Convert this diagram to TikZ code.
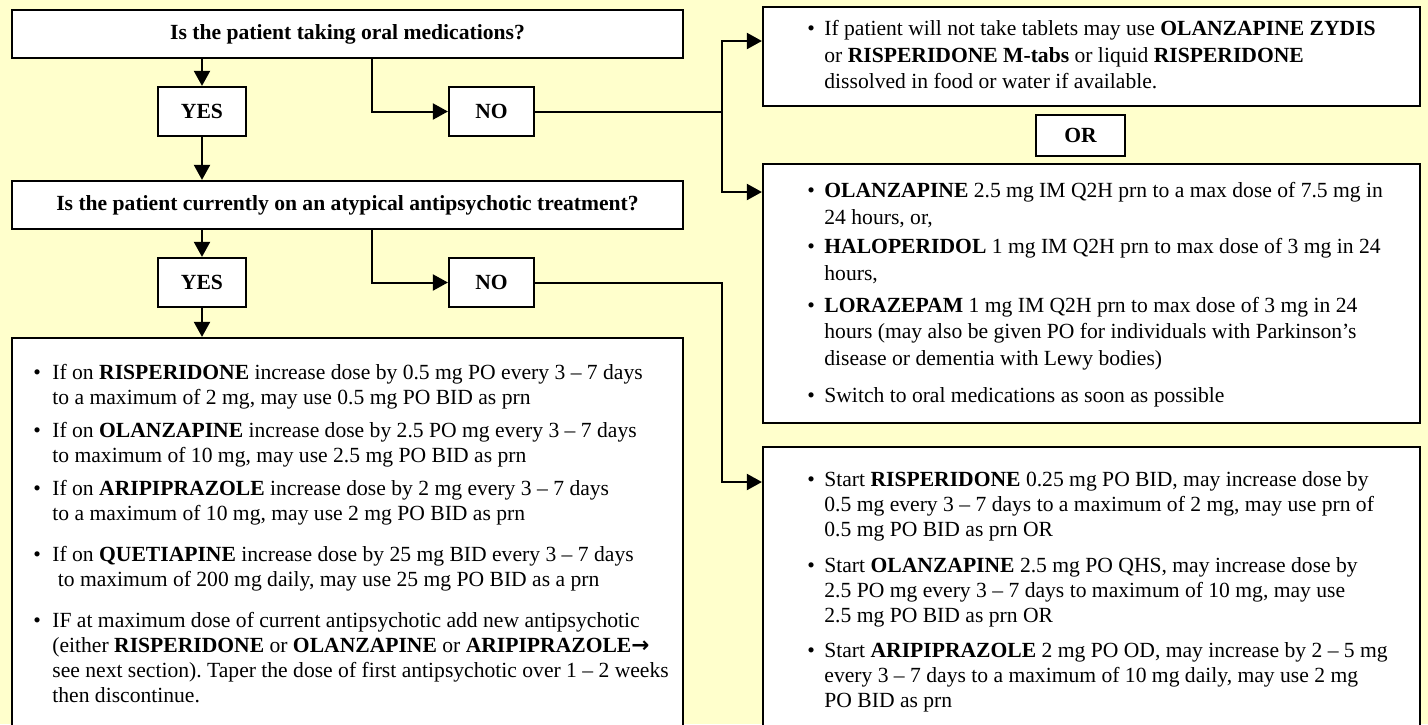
\documentclass[tikz,border=0pt]{standalone}
\usepackage{fontspec}
\setmainfont{Liberation Serif}
\newfontfamily\arrowfont{DejaVu Sans}
\usetikzlibrary{arrows.meta, positioning}
\definecolor{notepad}{HTML}{FFFFCC}

\newlength{\bulletind}
\newcommand{\chartfont}{\fontsize{10.8pt}{12.5pt}\selectfont\frenchspacing}
\newcommand{\bitem}[1]{\par\hangindent=\bulletind\hangafter=1\noindent
  \makebox[\bulletind][l]{\rule{0pt}{9pt}\textbullet}#1}

\tikzset{
  flowbox/.style={draw=black, line width=1.1pt, fill=white, inner sep=0pt},
  askbox/.style={flowbox, minimum width=335.5pt, minimum height=24pt, font=\chartfont\bfseries},
  ansbox/.style={flowbox, minimum height=24.5pt, font=\chartfont\bfseries},
  flowtext/.style={anchor=north west, inner sep=0pt, align=left, font=\chartfont},
  arr/.style={line width=1pt, -{Triangle[length=7.5pt, width=8pt]}},
}

\begin{document}
\begin{tikzpicture}[x=0.5pt, y=-0.5pt]
    \useasboundingbox (0,0) rectangle (1428,724);
    \clip (0,0) rectangle (1428,724);
    \fill[notepad] (0,0) rectangle (1428,724);

    % questions and answers
    \node[askbox] (oral) at (347.5,34) {Is the patient taking oral medications?};
    \node[ansbox, minimum width=44pt] (oralyes) at (202,111.5) {YES};
    \node[ansbox, minimum width=42.5pt] (oralno) at (491.5,111.5) {NO};
    \node[askbox] (atyp) at (347.5,205) {Is the patient currently on an atypical antipsychotic treatment?};
    \node[ansbox, minimum width=44pt] (atypyes) at (202,282.5) {YES};
    \node[ansbox, minimum width=42.5pt] (atypno) at (491.5,282.5) {NO};

    % outcome boxes
    \node[flowbox, minimum width=335.5pt, minimum height=201pt] (titrate) at (347.5,539) {};
    \node[flowbox, minimum width=328.5pt, minimum height=49.5pt] (liquid) at (1091.5,56.5) {};
    \node[flowbox, minimum width=44.5pt, minimum height=20.5pt, font=\chartfont\bfseries] (either) at (1080.5,135.5) {OR};
    \node[flowbox, minimum width=328.5pt, minimum height=129.5pt] (inject) at (1091.5,293.5) {};
    \node[flowbox, minimum width=328.5pt, minimum height=146.5pt] (start) at (1091.5,593.5) {};

    % box texts
    \node[flowtext] (titratetxt) at (33,361) {\parbox[t]{340pt}{\setlength{\bulletind}{9.5pt}%
      \bitem{If on \textbf{RISPERIDONE} increase dose by 0.5 mg PO every 3 – 7 days\\
        to a maximum of 2 mg, may use 0.5 mg PO BID as prn}
      \par\vspace{4pt}
      \bitem{If on \textbf{OLANZAPINE} increase dose by 2.5 PO mg every 3 – 7 days\\
        to maximum of 10 mg, may use 2.5 mg PO BID as prn}
      \par\vspace{4pt}
      \bitem{If on \textbf{ARIPIPRAZOLE} increase dose by 2 mg every 3 – 7 days\\
        to a maximum of 10 mg, may use 2 mg PO BID as prn}
      \par\vspace{8pt}
      \bitem{If on \textbf{QUETIAPINE} increase dose by 25 mg BID every 3 – 7 days\\
        \hspace*{0.25em}to maximum of 200 mg daily, may use 25 mg PO BID as a prn}
      \par\vspace{8pt}
      \bitem{IF at maximum dose of current antipsychotic add new antipsychotic\\
        (either \textbf{RISPERIDONE} or \textbf{OLANZAPINE} or \textbf{ARIPIPRAZOLE{\arrowfont→}}\\
        see next section). Taper the dose of first antipsychotic over 1 – 2 weeks\\
        then discontinue.}}};

    \node[flowtext] (liquidtxt) at (807,17) {\parbox[t]{340pt}{\fontsize{10.8pt}{13.3pt}\selectfont
      \setlength{\bulletind}{8.5pt}%
      \bitem{If patient will not take tablets may use \textbf{OLANZAPINE ZYDIS}\\
        or \textbf{RISPERIDONE M-tabs} or liquid \textbf{RISPERIDONE}\\
        dissolved in food or water if available.}}};

    \node[flowtext] (injecttxt) at (807,179) {\parbox[t]{340pt}{\fontsize{10.8pt}{13.35pt}\selectfont
      \setlength{\bulletind}{8.5pt}%
      \bitem{\textbf{OLANZAPINE} 2.5 mg IM Q2H prn to a max dose of 7.5 mg in\\
        24 hours, or,}
      \par\vspace{1.5pt}
      \bitem{\textbf{HALOPERIDOL} 1 mg IM Q2H prn to max dose of 3 mg in 24\\
        hours,}
      \par\vspace{2.5pt}
      \bitem{\textbf{LORAZEPAM} 1 mg IM Q2H prn to max dose of 3 mg in 24\\
        hours (may also be given PO for individuals with Parkinson’s\\
        disease or dementia with Lewy bodies)}
      \par\vspace{5pt}
      \bitem{Switch to oral medications as soon as possible}}};

    \node[flowtext] (starttxt) at (807,468) {\parbox[t]{340pt}{\setlength{\bulletind}{8.5pt}%
      \bitem{Start \textbf{RISPERIDONE} 0.25 mg PO BID, may increase dose by\\
        0.5 mg every 3 – 7 days to a maximum of 2 mg, may use prn of\\
        0.5 mg PO BID as prn OR}
      \par\vspace{5.5pt}
      \bitem{Start \textbf{OLANZAPINE} 2.5 mg PO QHS, may increase dose by\\
        2.5 PO mg every 3 – 7 days to maximum of 10 mg, may use\\
        2.5 mg PO BID as prn OR}
      \par\vspace{5pt}
      \bitem{Start \textbf{ARIPIPRAZOLE} 2 mg PO OD, may increase by 2 – 5 mg\\
        every 3 – 7 days to a maximum of 10 mg daily, may use 2 mg\\
        PO BID as prn}}};

    % connectors
    \coordinate (oralout) at ([xshift=12.25pt]oral.south);
    \coordinate (atypout) at ([xshift=12.25pt]atyp.south);
    \coordinate (split) at (722,41);
    \coordinate (splitlow) at (722,192);
    \coordinate (startin) at (722,482);

    \draw[arr] (oral.south -| oralyes.north) -- (oralyes.north);
    \draw[arr] (oralyes.south) -- (atyp.north -| oralyes.south);
    \draw[arr] (oralout) |- (oralno.west);
    \draw[line width=1pt] (oralno.east) -- (oralno.east -| split);
    \draw[arr] (splitlow) -- (split) -- (liquid.west |- split);
    \draw[arr] (split) -- (splitlow) -- (inject.west |- splitlow);

    \draw[arr] (atyp.south -| atypyes.north) -- (atypyes.north);
    \draw[arr] (atypyes.south) -- (titrate.north -| atypyes.south);
    \draw[arr] (atypout) |- (atypno.west);
    \draw[arr] (atypno.east) -| (startin) -- (start.west |- startin);
\end{tikzpicture}
\end{document}
